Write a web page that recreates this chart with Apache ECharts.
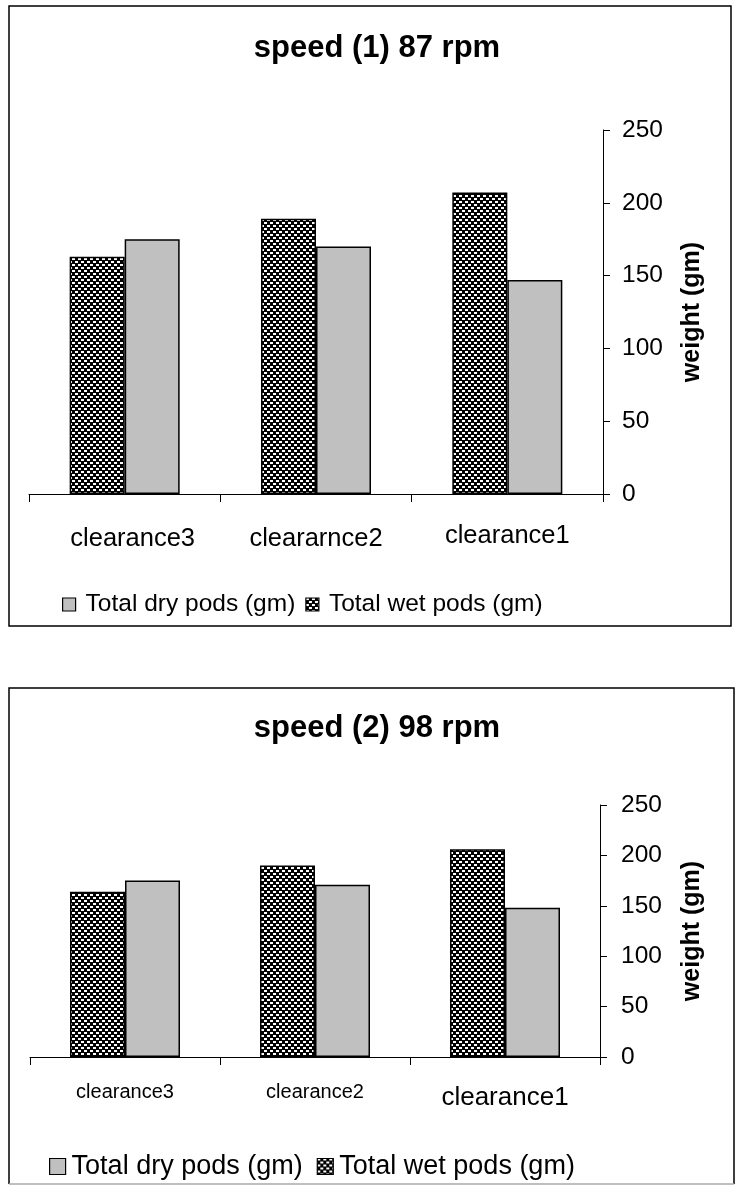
<!DOCTYPE html>
<html>
<head>
<meta charset="utf-8">
<script src="https://cdn.jsdelivr.net/npm/echarts@6/dist/echarts.min.js"></script>
<style>
  html, body { margin: 0; padding: 0; background: #fff; }
  #main { width: 735px; height: 1188px; }
</style>
</head>
<body>
<div id="main"></div>
<script>
// data
var titles = ['speed (1) 87 rpm', 'speed (2) 98 rpm'];
var categories1 = ['clearance3', 'cleararnce2', 'clearance1'];
var categories2 = ['clearance3', 'clearance2', 'clearance1'];
var wet1 = [163, 189, 207];
var dry1 = [175, 170, 147];
var wet2 = [164, 190, 206];
var dry2 = [175, 171, 148];
var seriesNames = ['Total dry pods (gm)', 'Total wet pods (gm)'];
var yName = 'weight (gm)';
var yMin = 0, yMax = 250, yStep = 50;

var FONT = 'Liberation Sans, Arial, sans-serif';

//黑底白点的填充
function makePattern() {
    var c = document.createElement('canvas');
    c.width = 6; c.height = 6;
    var ctx = c.getContext('2d');
    ctx.fillStyle = '#000';
    ctx.fillRect(0, 0, 6, 6);
    ctx.fillStyle = '#fff';
    ctx.fillRect(0, 0, 3, 2);
    ctx.fillRect(3, 3, 3, 2);
    return c;
}
var wetFill = { image: makePattern(), repeat: 'repeat' };
var dryFill = '#c0c0c0';

function yAxisOf(gridIndex, gap, margin) {
    return {
        gridIndex: gridIndex,
        type: 'value',
        position: 'right',
        min: yMin, max: yMax, interval: yStep,
        name: yName,
        nameLocation: 'middle',
        nameRotate: 90,
        nameGap: gap,
        nameTextStyle: { fontFamily: FONT, fontSize: 25, fontWeight: 'bold', color: '#000' },
        axisLine: { show: true, lineStyle: { color: '#000', width: 1 } },
        axisTick: { show: true, length: 7, lineStyle: { color: '#000' } },
        axisLabel: { margin: margin, fontFamily: FONT, fontSize: 24.5, color: '#000' },
        splitLine: { show: false }
    };
}

function xAxisOf(gridIndex, cats, styles, margin, size) {
    var items = [];
    for (var i = 0; i < cats.length; i++) {
        var it = { value: cats[i] };
        if (styles[cats[i]]) it.textStyle = styles[cats[i]];
        items.push(it);
    }
    return {
        gridIndex: gridIndex,
        type: 'category',
        data: items,
        axisLine: { show: true, lineStyle: { color: '#000', width: 1 } },
        axisTick: { show: true, length: 8, lineStyle: { color: '#000' } },
        axisLabel: { margin: margin, fontFamily: FONT, fontSize: size, color: '#000' }
    };
}

function barSeries(name, idx, values, fill) {
    return {
        name: name,
        type: 'bar',
        xAxisIndex: idx,
        yAxisIndex: idx,
        data: values,
        barWidth: 55,
        barGap: '0%',
        itemStyle: { color: fill, borderColor: '#000', borderWidth: 1.5 },
        emphasis: { disabled: true }
    };
}

function legendOf(left, top, size, fontSize, gap, pad) {
    return {
        left: left, top: top,
        data: [seriesNames[0], seriesNames[1]],
        icon: 'rect',
        itemWidth: size, itemHeight: size,
        itemGap: gap,
        itemStyle: { borderColor: '#000', borderWidth: 1.2 },
        textStyle: { fontFamily: FONT, fontSize: fontSize, color: '#000', padding: [0, 0, 0, pad] },
        selectedMode: false
    };
}

var chart = echarts.init(document.getElementById('main'));
var option = {
    animation: false,
    backgroundColor: '#fff',
    title: [
        { text: titles[0], left: 372, top: 28, textAlign: 'center',
          textStyle: { fontFamily: FONT, fontSize: 31, fontWeight: 'bold', color: '#000' } },
        { text: titles[1], left: 372, top: 708, textAlign: 'center',
          textStyle: { fontFamily: FONT, fontSize: 31, fontWeight: 'bold', color: '#000' } }
    ],
    legend: [
        legendOf(57, 587, 13, 24.5, 10, 5),
        legendOf(44, 1148, 16, 27, 14, 1)
    ],
    grid: [
        { left: 29, right: 132, top: 130, bottom: 694 },
        { left: 30, right: 135, top: 805, bottom: 131 }
    ],
    xAxis: [
        xAxisOf(0, categories1, { clearance3: { padding: [0, 0, 0, 16] }, clearance1: { lineHeight: 19 } }, 32, 25.5),
        xAxisOf(1, categories2, { clearance3: { fontSize: 20 }, clearance2: { fontSize: 20 }, clearance1: { fontSize: 26, lineHeight: 32 } }, 25, 24)
    ],
    yAxis: [
        yAxisOf(0, 77, 19),
        yAxisOf(1, 80, 21)
    ],
    series: [
        barSeries(seriesNames[1], 0, wet1, wetFill),
        barSeries(seriesNames[0], 0, dry1, dryFill),
        barSeries(seriesNames[1], 1, wet2, wetFill),
        barSeries(seriesNames[0], 1, dry2, dryFill)
    ],
    graphic: [
        // frame round chart 1
        { type: 'rect', shape: { x: 9, y: 6, width: 722, height: 620 },
          style: { fill: null, stroke: '#000', lineWidth: 1.5 }, silent: true },
        // frame round chart 2 (bottom edge is grey)
        { type: 'polyline', shape: { points: [[9, 1184], [9, 688], [734, 688], [734, 1184]] },
          style: { fill: null, stroke: '#000', lineWidth: 1.5 }, silent: true },
        { type: 'line', shape: { x1: 9, y1: 1184, x2: 734, y2: 1184 },
          style: { stroke: '#aaa', lineWidth: 1.5 }, silent: true }
    ]
};
chart.setOption(option);
</script>
</body>
</html>
